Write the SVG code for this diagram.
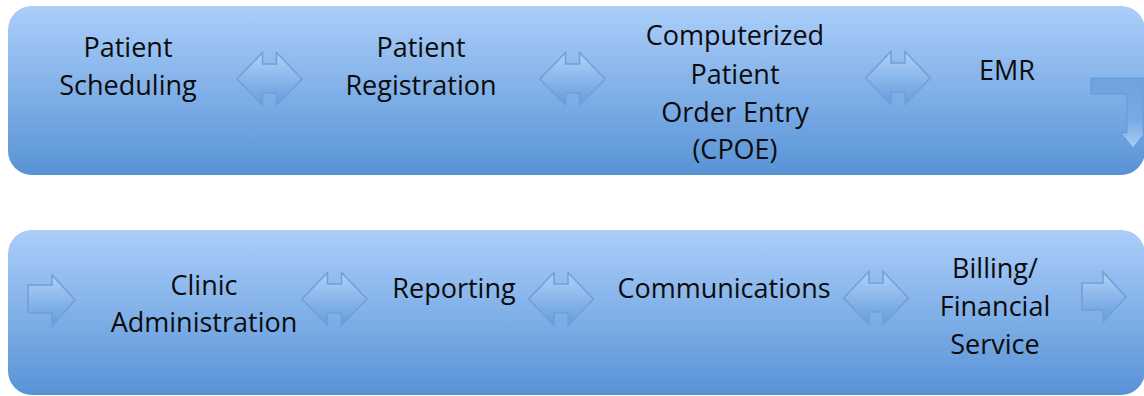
<svg xmlns="http://www.w3.org/2000/svg" width="1144" height="396" viewBox="0 0 1144 396">
<defs>
<linearGradient id="band" x1="0" y1="0" x2="0" y2="1">
<stop offset="0" stop-color="#abcefa"/>
<stop offset="1" stop-color="#5893d6"/>
</linearGradient>
<linearGradient id="arr" x1="0" y1="0" x2="0" y2="1">
<stop offset="0" stop-color="#b0d1f8"/>
<stop offset="1" stop-color="#659cdc"/>
</linearGradient>
<linearGradient id="bent" x1="0" y1="0" x2="0" y2="1">
<stop offset="0" stop-color="#6fa2e0"/>
<stop offset="0.6" stop-color="#7aaae5"/>
<stop offset="1" stop-color="#a9ccf5"/>
</linearGradient>
<path id="dbl" d="M-32.5,0 L-7,-26.5 L-7,-15 L7,-15 L7,-26.5 L32.5,0 L7,26.5 L7,14 L-7,14 L-7,26.5 Z"/>
<style>
.band{fill:url(#band);}
.arrow{fill:url(#arr);stroke:#6f9fd9;stroke-width:1.5;stroke-linejoin:miter;}
.bent{fill:url(#bent);stroke:#6399d8;stroke-width:1;}
text{font-family:"Open Sans","Liberation Sans",sans-serif;font-size:27px;fill:#0c0c0c;text-anchor:middle;}
</style>
</defs>
<g id="row1">
<rect class="band" x="8" y="6" width="1137" height="169" rx="24" ry="24"/>
</g>
<g id="row2">
<rect class="band" x="8" y="230" width="1137" height="165" rx="24" ry="24"/>
</g>
<g id="node-scheduling"><text x="128" y="57">Patient</text><text x="128" y="95">Scheduling</text></g>
<g id="node-registration"><text x="421" y="57">Patient</text><text x="421" y="95">Registration</text></g>
<g id="node-cpoe"><text x="735" y="45">Computerized</text><text x="735" y="84">Patient</text><text x="735" y="122">Order Entry</text><text x="735" y="159">(CPOE)</text></g>
<g id="node-emr"><text x="1007" y="80">EMR</text></g>
<g id="node-clinic"><text x="204" y="295">Clinic</text><text x="204" y="332">Administration</text></g>
<g id="node-reporting"><text x="454" y="298">Reporting</text></g>
<g id="node-communications"><text x="724" y="298">Communications</text></g>
<g id="node-billing"><text x="995" y="278">Billing/</text><text x="995" y="316">Financial</text><text x="995" y="354">Service</text></g>
<g id="connectors">
<use class="arrow" href="#dbl" x="269.5" y="79"/>
<use class="arrow" href="#dbl" x="572.5" y="79"/>
<use class="arrow" href="#dbl" x="898" y="78"/>
<path class="bent" d="M1091,78 L1143,78 L1143,133 L1145,133 L1133,148 L1121,133 L1127,133 L1127,94 L1091,94 Z"/>
<path class="arrow" d="M28,285 L52,285 L52,275 L75,300 L52,326 L52,313 L28,313 Z"/>
<use class="arrow" href="#dbl" x="334.5" y="299"/>
<use class="arrow" href="#dbl" x="561" y="299"/>
<use class="arrow" href="#dbl" x="876" y="298"/>
<path class="arrow" d="M1082,283 L1103,283 L1103,272 L1126,297 L1103,322 L1103,310 L1082,310 Z"/>
</g>
</svg>
